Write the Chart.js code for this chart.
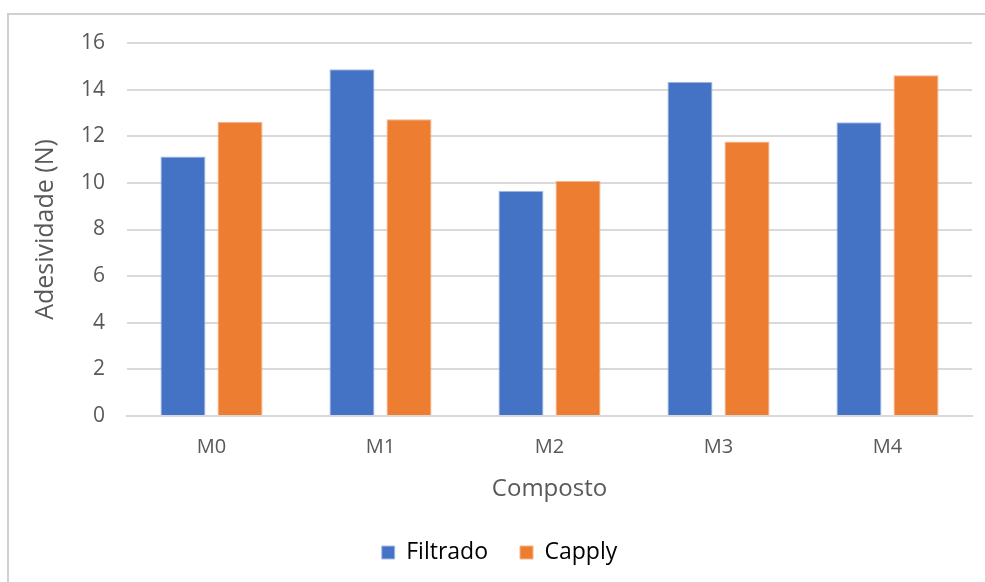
<!DOCTYPE html>
<html>
<head>
<meta charset="utf-8">
<title>Adesividade por composto</title>
<script src="https://cdn.jsdelivr.net/npm/chart.js@4.4.1/dist/chart.umd.min.js"></script>
<style>
  html, body { margin: 0; padding: 0; background: #ffffff; overflow: hidden; }
  #frame {
    position: absolute; left: 7px; top: 13px;
    width: 1100px; height: 700px;
    border: 2px solid #d0d0d0; box-sizing: border-box;
  }
  #wrap { position: absolute; left: 0; top: 0; width: 985px; height: 582px; }
</style>
</head>
<body>
<div id="frame"></div>
<div id="wrap"><canvas id="chart" width="985" height="582"></canvas></div>
<script>
// Composites tested and measured adhesiveness (N)
const categories = ['M0', 'M1', 'M2', 'M3', 'M4'];
const filtrado = [11.13, 14.87, 9.66, 14.34, 12.6];
const capply = [12.62, 12.73, 10.08, 11.77, 14.62];
const yTicks = [0, 2, 4, 6, 8, 10, 12, 14, 16];

const FONT = '"Open Sans", "DejaVu Sans", sans-serif';
const GREY = '#595959';

new Chart(document.getElementById('chart'), {
  type: 'bar',
  data: {
    labels: categories,
    datasets: [
      { label: 'Filtrado', data: filtrado, backgroundColor: '#4472C4',
        borderColor: '#a9bde6', borderWidth: 1 },
      { label: 'Capply', data: capply, backgroundColor: '#ED7D31',
        borderColor: '#f5b48a', borderWidth: 1 }
    ]
  },
  options: {
    responsive: false,
    animation: false,
    devicePixelRatio: 1,
    layout: { padding: { left: 27, right: 13, top: 43, bottom: 8 } },
    datasets: { bar: { categoryPercentage: 0.675, barPercentage: 0.79 } },
    plugins: {
      tooltip: { enabled: false },
      legend: {
        position: 'bottom',
        labels: {
          font: { family: FONT, size: 23 },
          color: '#000000',
          boxWidth: 13, boxHeight: 13,
          padding: 32
        }
      }
    },
    scales: {
      x: {
        grid: { display: false, drawTicks: false },
        border: { display: true, color: '#d9d9d9', width: 2 },
        ticks: { font: { family: FONT, size: 20 }, color: GREY, padding: 19 },
        title: { display: true, text: 'Composto', color: GREY,
                 font: { family: FONT, size: 24 }, padding: { top: 4, bottom: 5 } },
        afterFit: (s) => { s.height = 93; }
      },
      y: {
        min: 0, max: 16,
        afterBuildTicks: (s) => { s.ticks = yTicks.map(v => ({ value: v })); },
        grid: { color: '#d9d9d9', lineWidth: 2, drawTicks: false },
        border: { display: false },
        ticks: { font: { family: FONT, size: 21 }, color: GREY, padding: 22 },
        title: { display: true, text: 'Adesividade (N)', color: GREY,
                 font: { family: FONT, size: 25 }, padding: { top: 4, bottom: 4 } },
        afterFit: (s) => { s.width = 100; }
      }
    }
  }
});
</script>
</body>
</html>
